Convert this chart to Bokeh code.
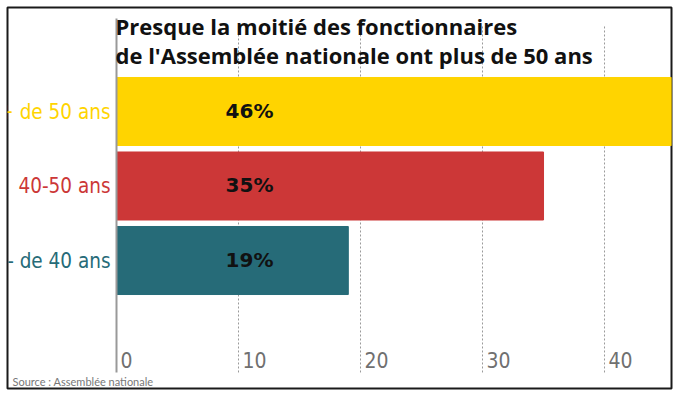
from bokeh.plotting import figure
from bokeh.models import Range1d, Label, ColumnDataSource
from bokeh.embed import file_html
from bokeh.resources import INLINE

# ---- data ----
categories = ["- de 40 ans", "40-50 ans", "+ de 50 ans"]
values = [19, 35, 46]
colors = ["#266B78", "#CC3737", "#FFD400"]
tick_values = [0, 10, 20, 30, 40]
title_lines = ["Presque la moitié des fonctionnaires",
               "de l'Assemblée nationale ont plus de 50 ans"]
source_text = "Source : Assemblée nationale"

positions = [i + 1 for i in range(len(categories))]
src = ColumnDataSource(dict(y=positions, v=values, c=colors, cat=categories))

W, H = 673, 390
x_start, x_end = -8.934, 45.49
y_start, y_end = -0.718, 4.396
grid_bottom, grid_top = -0.503, 4.154
axis_top = 4.25

p = figure(width=W, height=H, output_backend="svg", toolbar_location=None,
           x_range=Range1d(x_start, x_end), y_range=Range1d(y_start, y_end),
           min_border_left=7, min_border_right=2, min_border_top=7,
           min_border_bottom=2)
p.outline_line_color = "#1a1a1a"
p.outline_line_width = 2
p.background_fill_color = "white"
p.border_fill_color = "white"
p.xaxis.visible = False
p.yaxis.visible = False
p.xgrid.visible = False
p.ygrid.visible = False

# dotted vertical grid lines at the ticks (excluding 0)
gt = tick_values[1:]
p.segment(x0=gt, x1=gt, y0=[grid_bottom] * len(gt), y1=[grid_top] * len(gt),
          line_color="#9a9a9a", line_dash="2 2", line_width=1)

p.hbar(y="y", right="v", left=0, height=0.913, color="c", source=src)

# zero axis line
p.segment(x0=[0], x1=[0], y0=[grid_bottom], y1=[axis_top],
          line_color="#999999", line_width=2)

# category labels
for y, cat, col in zip(positions, categories, colors):
    p.add_layout(Label(x=0, y=y, text=cat, x_offset=-6, text_align="right",
                       text_baseline="middle", text_color=col,
                       text_font="DejaVu Sans Condensed", text_font_size="20.5px"))

# value labels
for y, v in zip(positions, values):
    p.add_layout(Label(x=10.9, y=y, text=f"{v}%", text_align="center",
                       text_baseline="middle", text_color="#111111",
                       text_font="DejaVu Sans", text_font_style="bold",
                       text_font_size="20px", y_offset=1))

# tick labels inside plot
for t in tick_values:
    p.add_layout(Label(x=t, y=y_start, text=str(t), x_offset=4, y_offset=29,
                       text_align="left", text_baseline="alphabetic",
                       text_color="#707070", text_font="DejaVu Sans Condensed",
                       text_font_size="21px"))

# title
for i, line in enumerate(title_lines):
    p.add_layout(Label(x=0, y=y_end, text=line, x_offset=-1, y_offset=-18 - 29 * i,
                       text_align="left", text_baseline="alphabetic",
                       text_color="#111111", text_font="Open Sans",
                       text_font_style="bold", text_font_size="22px"))

# source
p.add_layout(Label(x=0, y=y_start, text=source_text, x_offset=-104, y_offset=7,
                   text_align="left", text_baseline="middle", text_color="#777777",
                   text_font="Lato", text_font_size="11px"))

open("out.html", "w").write(file_html(p, INLINE))
